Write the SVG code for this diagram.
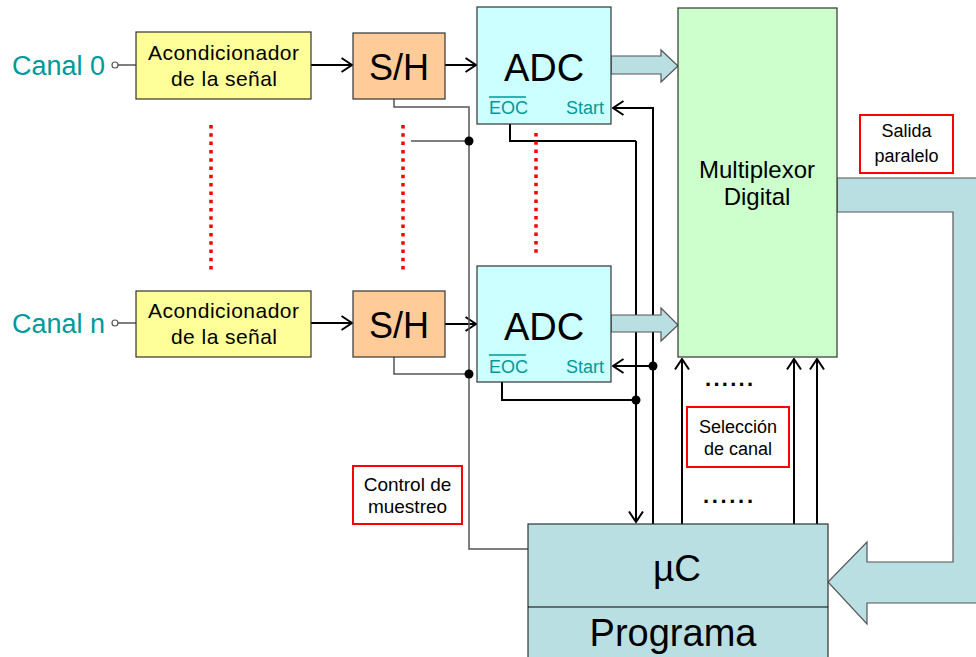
<svg xmlns="http://www.w3.org/2000/svg" width="976" height="657" viewBox="0 0 976 657">
<style>
text{font-family:"Liberation Sans",Arial,sans-serif;fill:#000}
.box{stroke:#333;stroke-width:1.2}
.acon{fill:#FFFF99}
.sh{fill:#FFCC99}
.adc{fill:#CCFFFF}
.mux{fill:#CCFFCC}
.uc{fill:#BADFE2}
.fat{fill:#BADFE2;stroke:#555;stroke-width:1.2}
.lbl{fill:#fff;stroke:#FF0000;stroke-width:2}
.teal{fill:#009999}
.wire{fill:none;stroke:#000;stroke-width:2}
.gwire{fill:none;stroke:#555;stroke-width:1.5}
.arr{marker-end:url(#ah)}
.red{stroke:#FF0000;stroke-width:3.5;stroke-dasharray:3.5 4.8;fill:none}
.s21{font-size:21px}
.s18{font-size:18px}
</style>
<defs>
<marker id="ah" viewBox="0 0 13 16" refX="11.5" refY="8" markerWidth="13" markerHeight="16" markerUnits="userSpaceOnUse" orient="auto">
<path d="M1,1 L11.5,8 L1,15" fill="none" stroke="#000" stroke-width="2"/>
</marker>
</defs>

<g id="connectors">
<line x1="118" y1="65" x2="136" y2="65" stroke="#555" stroke-width="1.5"/>
<line x1="118" y1="323" x2="136" y2="323" stroke="#555" stroke-width="1.5"/>
<line class="wire arr" x1="311" y1="65" x2="352" y2="65"/>
<line class="wire arr" x1="445" y1="65" x2="476" y2="65"/>
<line class="wire arr" x1="311" y1="323" x2="352" y2="323"/>
<line class="wire arr" x1="445" y1="324" x2="476" y2="324"/>
<polyline class="gwire" points="394,99 394,107 469,107 469,549 528,549"/>
<line class="gwire" x1="411" y1="141" x2="469" y2="141"/>
<polyline class="gwire" points="394,357 394,374 469,374"/>
<circle cx="469" cy="141" r="4.5" fill="#000"/>
<circle cx="469" cy="374" r="4.5" fill="#000"/>
<polyline class="wire" points="510,124 510,141 636,141"/>
<line class="wire arr" x1="636" y1="141" x2="636" y2="522"/>
<polyline class="wire" points="502,382 502,400 636,400"/>
<circle cx="636" cy="400" r="4.5" fill="#000"/>
<line class="wire" x1="653" y1="107" x2="653" y2="524"/>
<line class="wire arr" x1="653" y1="108" x2="613" y2="108"/>
<line class="wire arr" x1="653" y1="366" x2="613" y2="366"/>
<circle cx="653" cy="366" r="4.5" fill="#000"/>
<line class="wire arr" x1="682" y1="524" x2="682" y2="359"/>
<line class="wire arr" x1="794" y1="524" x2="794" y2="359"/>
<line class="wire arr" x1="817" y1="524" x2="817" y2="359"/>
<path class="fat" d="M611,56 L661,56 L661,50 L678,66 L661,82 L661,74 L611,74 Z"/>
<path class="fat" d="M611,315 L661,315 L661,308 L678,325 L661,341 L661,332 L611,332 Z"/>
<path class="fat" d="M837,178 L990,178 L990,603 L867,603 L867,624 L828,582 L867,542 L867,562 L953,562 L953,212 L837,212 Z"/>
<line class="red" x1="211" y1="125" x2="211" y2="270"/>
<line class="red" x1="403" y1="125" x2="403" y2="270"/>
<line class="red" x1="536" y1="133" x2="536" y2="254"/>
</g>

<g id="canal0">
<text x="12" y="75" class="teal" font-size="27" textLength="93">Canal 0</text>
<circle cx="115" cy="65" r="3" fill="#fff" stroke="#555" stroke-width="1.2"/>
</g>
<g id="canaln">
<text x="12" y="333" class="teal" font-size="27" textLength="93">Canal n</text>
<circle cx="115" cy="323" r="3" fill="#fff" stroke="#555" stroke-width="1.2"/>
</g>

<g id="acond0">
<rect class="box acon" x="136" y="32" width="175" height="67"/>
<text x="148" y="60" class="s21" textLength="151">Acondicionador</text>
<text x="171" y="86" class="s21" textLength="106">de la señal</text>
</g>
<g id="acondn">
<rect class="box acon" x="136" y="291" width="175" height="66"/>
<text x="148" y="318" class="s21" textLength="151">Acondicionador</text>
<text x="171" y="344" class="s21" textLength="106">de la señal</text>
</g>

<g id="sh0">
<rect class="box sh" x="353" y="33" width="92" height="66"/>
<text x="399" y="80" font-size="36" text-anchor="middle">S/H</text>
</g>
<g id="shn">
<rect class="box sh" x="353" y="291" width="92" height="66"/>
<text x="399" y="338" font-size="36" text-anchor="middle">S/H</text>
</g>

<g id="adc0">
<rect class="box adc" x="477" y="7" width="134" height="117"/>
<text x="544" y="81" font-size="38" text-anchor="middle">ADC</text>
<text x="489" y="114" font-size="18" class="teal">EOC</text>
<line x1="489" y1="97" x2="526" y2="97" stroke="#009999" stroke-width="1.5"/>
<text x="604" y="114" font-size="18" class="teal" text-anchor="end">Start</text>
</g>
<g id="adcn">
<rect class="box adc" x="477" y="266" width="134" height="116"/>
<text x="544" y="340" font-size="38" text-anchor="middle">ADC</text>
<text x="489" y="373" font-size="18" class="teal">EOC</text>
<line x1="489" y1="355" x2="526" y2="355" stroke="#009999" stroke-width="1.5"/>
<text x="604" y="373" font-size="18" class="teal" text-anchor="end">Start</text>
</g>

<g id="mux">
<rect class="box mux" x="678" y="8" width="159" height="349"/>
<text x="757" y="178" font-size="24" text-anchor="middle">Multiplexor</text>
<text x="757" y="205" font-size="24" text-anchor="middle">Digital</text>
</g>

<g id="uc">
<rect class="box uc" x="528" y="524" width="300" height="140"/>
<line x1="528" y1="607" x2="828" y2="607" stroke="#000" stroke-width="1.2"/>
<text x="677" y="581" font-size="37" text-anchor="middle">µC</text>
<text x="673" y="646" font-size="38" text-anchor="middle">Programa</text>
</g>

<g id="salida">
<rect class="lbl" x="860" y="115" width="93" height="58"/>
<text x="906.5" y="137" class="s18" text-anchor="middle">Salida</text>
<text x="906.5" y="162" class="s18" text-anchor="middle">paralelo</text>
</g>

<g id="seleccion">
<rect class="lbl" x="687" y="407" width="102" height="60"/>
<text x="738" y="433" class="s18" text-anchor="middle">Selección</text>
<text x="738" y="455" class="s18" text-anchor="middle">de canal</text>
</g>

<g id="control">
<rect class="lbl" x="353" y="466" width="109" height="58"/>
<text x="407.5" y="491" font-size="19" text-anchor="middle">Control de</text>
<text x="407.5" y="513" font-size="19" text-anchor="middle">muestreo</text>
</g>

<g id="dots">
<text x="705" y="386" font-size="22" font-weight="bold" textLength="48">......</text>
<text x="703" y="503" font-size="22" font-weight="bold" textLength="50">......</text>
</g>
</svg>
